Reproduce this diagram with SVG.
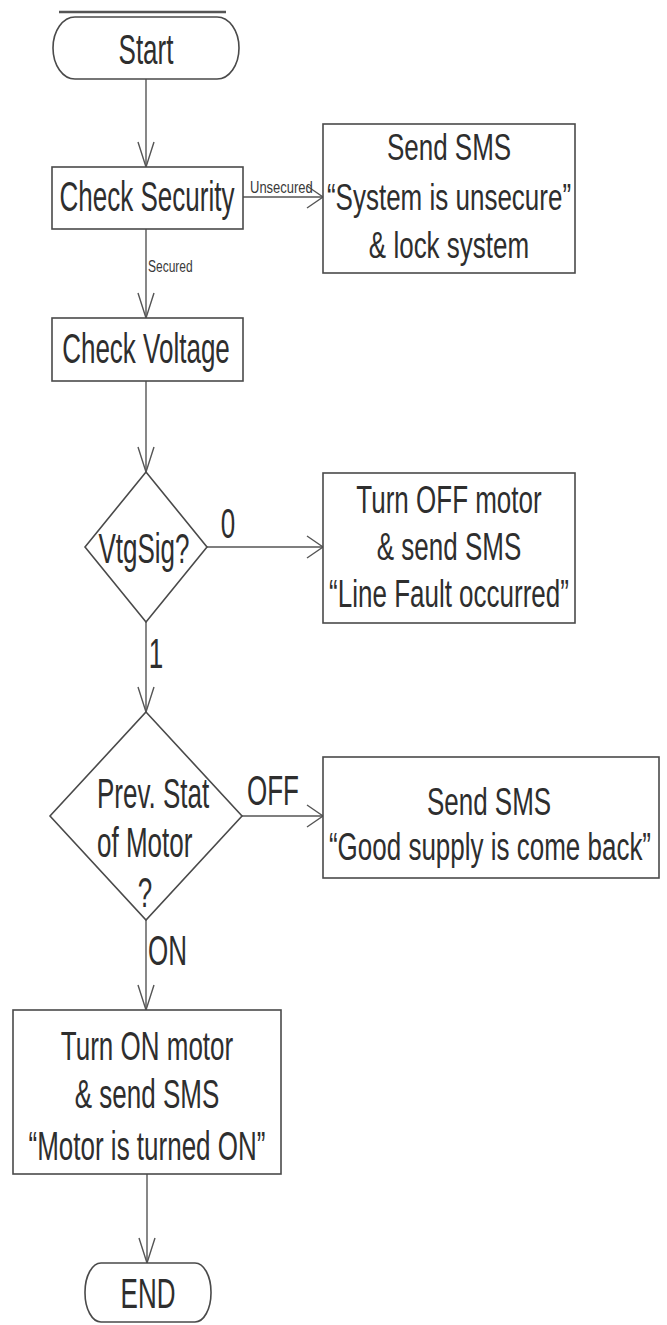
<svg xmlns="http://www.w3.org/2000/svg" width="667" height="1325" viewBox="0 0 667 1325">
<style>
.shape{fill:#fff;stroke:#4a4a4a;stroke-width:1.6}
.edge{fill:none;stroke:#555;stroke-width:1.4}
.t{font-family:"Liberation Sans",Arial,sans-serif;font-size:26px;fill:#2e2e2e;text-anchor:middle}
.s{font-family:"Liberation Sans",Arial,sans-serif;fill:#3a3a3a}
.mk{fill:none;stroke:#555;stroke-width:1.4}
</style>
<defs>
<marker id="av" markerUnits="userSpaceOnUse" viewBox="0 -10 28 20" markerWidth="28" markerHeight="20" refX="26" refY="0" orient="auto">
<path class="mk" d="M1,-8 L26,0 L1,8"/>
</marker>
<marker id="ah" markerUnits="userSpaceOnUse" viewBox="0 -12 19 24" markerWidth="19" markerHeight="24" refX="17" refY="0" orient="auto">
<path class="mk" d="M1,-11 L17,0 L1,11"/>
</marker>
</defs>
<rect width="667" height="1325" fill="#fff"/>

<g id="connectors">
<line class="edge" x1="146" y1="79" x2="146" y2="167" marker-end="url(#av)"/>
<line class="edge" x1="243" y1="197" x2="323" y2="197" marker-end="url(#ah)"/>
<line class="edge" x1="146" y1="229" x2="146" y2="318" marker-end="url(#av)"/>
<line class="edge" x1="146" y1="381" x2="146" y2="472" marker-end="url(#av)"/>
<line class="edge" x1="207" y1="547" x2="323" y2="547" marker-end="url(#ah)"/>
<line class="edge" x1="146" y1="622" x2="146" y2="712" marker-end="url(#av)"/>
<line class="edge" x1="242" y1="816" x2="323" y2="816" marker-end="url(#ah)"/>
<line class="edge" x1="146" y1="920" x2="146" y2="1010" marker-end="url(#av)"/>
<line class="edge" x1="147" y1="1174" x2="147" y2="1263" marker-end="url(#av)"/>
<text class="s" font-size="13" transform="translate(250,193) scale(1,1.3)">Unsecured</text>
<text class="s" font-size="12" transform="translate(148,272) scale(1,1.4)">Secured</text>
<text class="t" transform="translate(228,538) scale(1,1.6)">0</text>
<text class="t" transform="translate(156,668) scale(1,1.6)">1</text>
<text class="t" text-anchor="start" style="text-anchor:start" transform="translate(247,805) scale(1,1.6)">OFF</text>
<text class="t" style="text-anchor:start" transform="translate(148,965) scale(1,1.6)">ON</text>
</g>

<g id="start">
<line x1="59" y1="12" x2="226" y2="12" stroke="#555" stroke-width="2.5"/>
<rect class="shape" x="53" y="17" width="186" height="62" rx="22" ry="31"/>
<text class="t" transform="translate(146,64) scale(1,1.6)">Start</text>
</g>

<g id="check-security">
<rect class="shape" x="52" y="167" width="191" height="62"/>
<text class="t" transform="translate(147,211) scale(1,1.65)">Check Security</text>
</g>

<g id="sms-unsecure">
<rect class="shape" x="323" y="124" width="252" height="149"/>
<text class="t" transform="translate(449,160) scale(1,1.45)">Send SMS</text>
<text class="t" transform="translate(449,210) scale(1,1.45)">“System is unsecure”</text>
<text class="t" transform="translate(449,258) scale(1,1.45)">&amp; lock system</text>
</g>

<g id="check-voltage">
<rect class="shape" x="52" y="318" width="191" height="63"/>
<text class="t" transform="translate(146,363) scale(1,1.65)">Check Voltage</text>
</g>

<g id="vtgsig">
<polygon class="shape" points="146,472 207,547 146,622 85,547"/>
<text class="t" transform="translate(144,563) scale(1,1.65)">VtgSig?</text>
</g>

<g id="line-fault">
<rect class="shape" x="323" y="473" width="252" height="150"/>
<text class="t" transform="translate(449,513) scale(1,1.5)">Turn OFF motor</text>
<text class="t" transform="translate(449,560) scale(1,1.5)">&amp; send SMS</text>
<text class="t" transform="translate(449,607) scale(1,1.5)">“Line Fault occurred”</text>
</g>

<g id="prev-stat">
<polygon class="shape" points="146,712 242,816 146,920 50,816"/>
<text class="t" style="text-anchor:start" transform="translate(97,808) scale(1,1.6)">Prev. Stat</text>
<text class="t" style="text-anchor:start" transform="translate(97,857) scale(1,1.6)">of Motor</text>
<text class="t" transform="translate(145,907) scale(1,1.6)">?</text>
</g>

<g id="good-supply">
<rect class="shape" x="323" y="757" width="336" height="121"/>
<text class="t" transform="translate(489,815) scale(1,1.5)">Send SMS</text>
<text class="t" transform="translate(490,860) scale(1,1.5)">“Good supply is come back”</text>
</g>

<g id="motor-on">
<rect class="shape" x="13" y="1010" width="268" height="164"/>
<text class="t" transform="translate(147,1060) scale(1,1.55)">Turn ON motor</text>
<text class="t" transform="translate(147,1108) scale(1,1.55)">&amp; send SMS</text>
<text class="t" transform="translate(147,1160) scale(1,1.55)">“Motor is turned ON”</text>
</g>

<g id="end">
<rect class="shape" x="85" y="1263" width="126" height="59" rx="16" ry="29"/>
<text class="t" transform="translate(148,1308) scale(1,1.6)">END</text>
</g>
</svg>
